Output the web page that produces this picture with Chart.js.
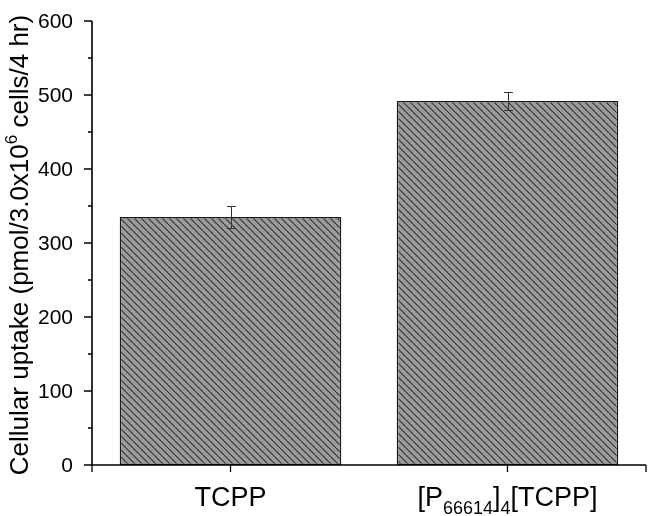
<!DOCTYPE html>
<html>
<head>
<meta charset="utf-8">
<script src="https://cdn.jsdelivr.net/npm/chart.js@4"></script>
<style>
html,body{margin:0;padding:0;background:#fff;}
#c{display:block;}
</style>
</head>
<body>
<canvas id="c" width="650" height="516"></canvas>
<script>
const categories = ["TCPP", "[P66614]4[TCPP]"];
const uptakeValues = [335, 492];
const uptakeErrors = [15, 12];
const yTickValues = [0, 100, 200, 300, 400, 500, 600];
const yAxisTitle = ["Cellular uptake (pmol/3.0x10", "6", " cells/4 hr)"];
// rich label segments: [text, isSub]
const xLabelParts = [
  [["TCPP", 0]],
  [["[P", 0], ["66614", 1], ["]", 0], ["4", 1], ["[TCPP]", 0]]
];

const FONT = '"Liberation Sans", Arial, sans-serif';

function makeHatch() {
  const s = 7;
  const p = document.createElement('canvas');
  p.width = s; p.height = s;
  const g = p.getContext('2d');
  g.fillStyle = '#9c9c9c';
  g.fillRect(0, 0, s, s);
  g.strokeStyle = '#2e2e2e';
  g.lineWidth = 1.1;
  for (const o of [-s, 0, s]) {
    g.beginPath();
    g.moveTo(o, 0);
    g.lineTo(o + s, s);
    g.stroke();
  }
  return g.createPattern(p, 'repeat');
}

const ctx = document.getElementById('c').getContext('2d');
const hatch = makeHatch();

const axesPlugin = {
  id: 'customAxes',
  afterDatasetsDraw(chart) {
    const c = chart.ctx;
    const ys = chart.scales.y, xs = chart.scales.x;
    const ca = chart.chartArea;
    c.save();
    // error bars
    const meta = chart.getDatasetMeta(0);
    c.strokeStyle = '#333';
    c.lineWidth = 1;
    meta.data.forEach((bar, i) => {
      const x = Math.round(bar.x) + 0.5;
      const yt = Math.round(ys.getPixelForValue(uptakeValues[i] + uptakeErrors[i])) + 0.5;
      const yb = Math.round(ys.getPixelForValue(uptakeValues[i] - uptakeErrors[i])) + 0.5;
      c.beginPath();
      c.moveTo(x, yt); c.lineTo(x, yb);
      c.moveTo(x - 4.5, yt); c.lineTo(x + 4.5, yt);
      c.moveTo(x - 4.5, yb); c.lineTo(x + 4.5, yb);
      c.stroke();
    });
    // axes lines
    c.strokeStyle = '#000';
    c.lineWidth = 1.6;
    c.beginPath();
    c.moveTo(ca.left, ca.top);
    c.lineTo(ca.left, ca.bottom);
    c.lineTo(ca.right, ca.bottom);
    c.stroke();
    // y ticks
    c.lineWidth = 1.3;
    c.beginPath();
    for (let v = 0; v <= 600; v += 50) {
      const y = ys.getPixelForValue(v);
      const len = (v % 100 === 0) ? 8 : 4;
      c.moveTo(ca.left, y); c.lineTo(ca.left - len, y);
    }
    // x ticks
    const xt = [ca.left, xs.getPixelForValue(0), xs.getPixelForValue(1), ca.right];
    xt.forEach(x => { c.moveTo(x, ca.bottom); c.lineTo(x, ca.bottom + 7); });
    c.stroke();
    // y tick labels
    c.fillStyle = '#000';
    c.font = '21px ' + FONT;
    c.textAlign = 'right';
    c.textBaseline = 'middle';
    yTickValues.forEach(v => {
      c.fillText(String(v), ca.left - 19, ys.getPixelForValue(v) + 1);
    });
    // x labels (rich)
    const mainSize = 27, subSize = 18;
    xLabelParts.forEach((parts, i) => {
      let w = 0;
      parts.forEach(([t, sub]) => {
        c.font = (sub ? subSize : mainSize) + 'px ' + FONT;
        w += c.measureText(t).width;
      });
      let x = xs.getPixelForValue(i) - w / 2;
      const base = ca.bottom + 41;
      c.textAlign = 'left';
      c.textBaseline = 'alphabetic';
      parts.forEach(([t, sub]) => {
        c.font = (sub ? subSize : mainSize) + 'px ' + FONT;
        c.fillText(t, x, sub ? base + 8 : base);
        x += c.measureText(t).width;
      });
    });
    // y title (rotated)
    c.translate(28, (ca.top + ca.bottom) / 2 + 2);
    c.rotate(-Math.PI / 2);
    const tSize = 26, supSize = 17;
    c.font = tSize + 'px ' + FONT;
    const w0 = c.measureText(yAxisTitle[0]).width;
    const w2 = c.measureText(yAxisTitle[2]).width;
    c.font = supSize + 'px ' + FONT;
    const w1 = c.measureText(yAxisTitle[1]).width;
    let x = -(w0 + w1 + w2) / 2;
    c.textAlign = 'left';
    c.textBaseline = 'alphabetic';
    c.font = tSize + 'px ' + FONT;
    c.fillText(yAxisTitle[0], x, 0); x += w0;
    c.font = supSize + 'px ' + FONT;
    c.fillText(yAxisTitle[1], x, -11); x += w1;
    c.font = tSize + 'px ' + FONT;
    c.fillText(yAxisTitle[2], x, 0);
    c.restore();
  }
};

new Chart(ctx, {
  type: 'bar',
  data: {
    labels: categories,
    datasets: [{
      data: uptakeValues,
      backgroundColor: hatch,
      borderColor: '#1a1a1a',
      borderWidth: 1.5,
      borderSkipped: false,
      barPercentage: 0.8,
      categoryPercentage: 1.0
    }]
  },
  options: {
    responsive: false,
    animation: false,
    devicePixelRatio: 1,
    layout: { padding: { top: 21, right: 4, left: 0, bottom: 0 } },
    plugins: { legend: { display: false }, tooltip: { enabled: false } },
    scales: {
      x: {
        grid: { display: false },
        border: { display: false },
        ticks: { display: false },
        afterFit(s) { s.height = 51; }
      },
      y: {
        min: 0, max: 600,
        grid: { display: false },
        border: { display: false },
        ticks: { display: false, stepSize: 100 },
        afterFit(s) { s.width = 92; }
      }
    }
  },
  plugins: [axesPlugin]
});
</script>
</body>
</html>
